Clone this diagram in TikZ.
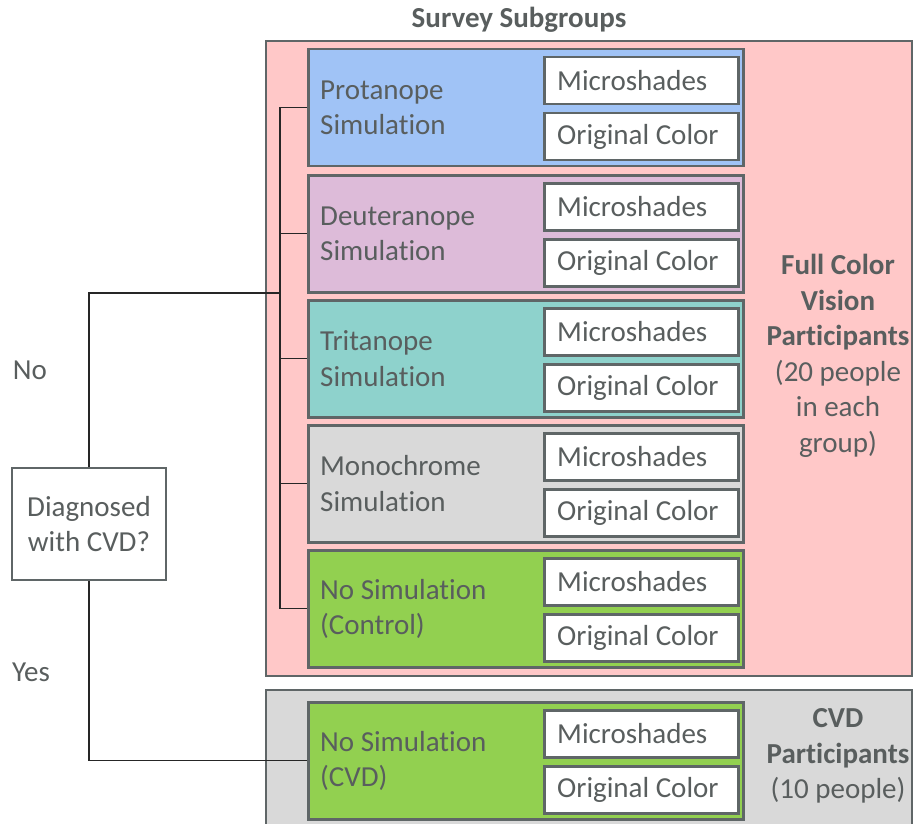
\documentclass[tikz,border=0pt]{standalone}
\usepackage{fontspec}
\setmainfont{Carlito}[RawFeature={-liga}]
\definecolor{pinkbg}{RGB}{255,200,200}
\definecolor{graybg}{RGB}{217,217,217}
\definecolor{bluefill}{RGB}{160,195,246}
\definecolor{mauvefill}{RGB}{221,187,217}
\definecolor{tealfill}{RGB}{142,210,204}
\definecolor{greyfill}{RGB}{217,217,217}
\definecolor{greenfill}{RGB}{146,208,80}
\definecolor{edgecol}{RGB}{95,102,103}
\definecolor{txt}{RGB}{89,94,94}
\tikzset{
  txtstyle/.style={text=txt, font=\fontsize{29}{35.5}\selectfont},
  outerbox/.style={draw=edgecol, line width=2pt, anchor=north west, minimum width=646, minimum height=635, inner sep=0},
  groupbox/.style={draw=edgecol, line width=2.5pt, anchor=north west, minimum width=435, minimum height=117, inner sep=0},
  optbox/.style={draw=edgecol, line width=2.5pt, fill=white, anchor=north west, minimum width=194, minimum height=47, inner sep=0},
  opttext/.style={txtstyle, anchor=west, inner sep=0},
  grouplabel/.style={txtstyle, anchor=west, align=left, inner sep=0},
  conn/.style={draw=black!85, line width=1.2pt},
}
\begin{document}
\begin{tikzpicture}[x=1pt,y=-1pt]
\useasboundingbox (0,0) rectangle (913,824);
% title
\node[txtstyle, font=\fontsize{29}{35}\selectfont\bfseries] (title) at (519,20) {Survey Subgroups};
% outer boxes
\node[outerbox, fill=pinkbg] (full) at (265,40) {};
\node[outerbox, fill=graybg, minimum height=150] (cvdbox) at (265,689) {};
% groups
\foreach \name/\top/\col/\la/\lb in {
  g1/48/bluefill/Protanope/Simulation,
  g2/174/mauvefill/Deuteranope/Simulation,
  g3/299/tealfill/Tritanope/Simulation,
  g4/424/greyfill/Monochrome/Simulation,
  g5/549/greenfill/No Simulation/(Control),
  g6/701/greenfill/No Simulation/(CVD)}{
  \node[groupbox, fill=\col] (\name) at (307,\top) {};
  \node[optbox] (\name m) at (543,\top+8) {};
  \node[optbox] (\name o) at (543,\top+64) {};
  \node[opttext] (\name mt) at ([xshift=14pt]\name m.west) {Microshades};
  \node[opttext] (\name ot) at ([xshift=14pt]\name o.west) {Original Color};
  \node[grouplabel] (\name l) at ([xshift=13pt]\name.west) {\la\\\lb};
}
% right-side labels
\node[txtstyle, align=center] (fulltxt) at (838,356) {\textbf{Full Color}\\\textbf{Vision}\\\textbf{Participants}\\(20 people\\in each\\group)};
\node[txtstyle, align=center] (cvdtxt) at (838,756) {\textbf{CVD}\\\textbf{Participants}\\(10 people)};
% decision box
\node[draw=edgecol, line width=2pt, fill=white, minimum width=154, minimum height=112, inner sep=0, txtstyle, align=center] (diag) at (89,524) {Diagnosed\\with CVD?};
\node[txtstyle] (no) at (30,370) {No};
\node[txtstyle] (yes) at (31,672) {Yes};
% connectors
\coordinate (bx) at (280,0);
\coordinate (jn) at (bx |- 0,293);
\draw[conn] (diag.north) |- (jn);
\draw[conn] (g1.west) -- (bx |- g1.west) -- (bx |- g5.west) -- (g5.west);
\foreach \g in {g2,g3,g4}{
  \draw[conn] (bx |- \g.west) -- (\g.west);
}
\draw[conn] (diag.south) |- (g6.west);
\end{tikzpicture}
\end{document}
